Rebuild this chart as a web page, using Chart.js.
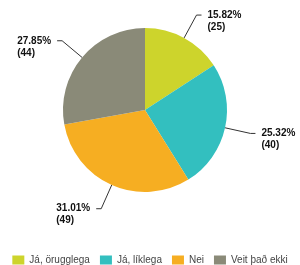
<!DOCTYPE html>
<html>
<head>
<meta charset="utf-8">
<script src="https://cdn.jsdelivr.net/npm/chart.js@4/dist/chart.umd.min.js"></script>
<style>
  html, body { margin: 0; padding: 0; background: #fff; }
  #wrap { width: 300px; height: 265px; }
</style>
</head>
<body>
<div id="wrap"><canvas id="myChart" width="300" height="265"></canvas></div>
<script>
const categories = ["Já, örugglega", "Já, líklega", "Nei", "Veit það ekki"];
const counts = [25, 40, 49, 44];
const percent_labels = ["15.82%", "25.32%", "31.01%", "27.85%"];
const slice_colors = ["#cdd42c", "#33bfbf", "#f6ae22", "#8a8a78"];

// empty layout boxes, only to keep the pie off the legend and a bit left
function spacer(position, size) {
  return {
    position: position,
    weight: 0,
    fullSize: false,
    options: {},
    top: 0, left: 0, right: 0, bottom: 0, width: 0, height: 0,
    isHorizontal() {
      return position === "top" || position === "bottom";
    },
    update(maxWidth, maxHeight) {
      if (this.isHorizontal()) {
        this.width = maxWidth;
        this.height = size;
      } else {
        this.width = size;
        this.height = maxHeight;
      }
    },
    draw() {},
  };
}

const spacers = {
  id: "spacers",
  beforeInit(chart) {
    Chart.layouts.addBox(chart, spacer("right", 10));
    Chart.layouts.addBox(chart, spacer("bottom", 53));
  },
};

// labels outside the pie with a leader line
const outsideLabels = {
  id: "outsideLabels",
  afterDatasetsDraw(chart) {
    const ctx = chart.ctx;
    const meta = chart.getDatasetMeta(0);
    ctx.save();
    ctx.font = "bold 10px Arial, 'Liberation Sans', sans-serif";
    ctx.textBaseline = "middle";
    ctx.strokeStyle = "#333";
    ctx.lineWidth = 1;
    meta.data.forEach((arc, i) => {
      const p = arc.getProps(["x", "y", "startAngle", "endAngle", "outerRadius"], true);
      const mid = (p.startAngle + p.endAngle) / 2;
      const cos = Math.cos(mid), sin = Math.sin(mid);
      const x0 = p.x + cos * p.outerRadius;
      const y0 = p.y + sin * p.outerRadius;
      const x1 = p.x + cos * (p.outerRadius + 26);
      const y1 = p.y + sin * (p.outerRadius + 26);
      const right = cos >= 0;
      const x2 = x1 + (right ? 5 : -5);
      ctx.beginPath();
      ctx.moveTo(x0, y0);
      ctx.lineTo(x1, y1);
      ctx.lineTo(x2, y1);
      ctx.stroke();
      const lines = [percent_labels[i], "(" + counts[i] + ")"];
      const w = Math.max(...lines.map((t) => ctx.measureText(t).width));
      const tx = right ? x2 + 6 : x2 - 6 - w;
      ctx.fillStyle = "#111";
      ctx.textAlign = "left";
      lines.forEach((t, k) => ctx.fillText(t, tx, y1 + k * 12));
    });
    ctx.restore();
  },
};

let ctx = document.getElementById("myChart").getContext("2d");
let myChart = new Chart(ctx, {
  type: "pie",
  data: {
    labels: categories,
    datasets: [
      {
        data: counts,
        backgroundColor: slice_colors,
        borderWidth: 0,
      },
    ],
  },
  options: {
    responsive: false,
    animation: false,
    layout: { padding: { top: 28, left: 0, right: 0, bottom: -10 } },
    plugins: {
      tooltip: { enabled: false },
      legend: {
        position: "bottom",
        labels: {
          boxWidth: 12,
          boxHeight: 9,
          padding: 10,
          color: "#444",
          font: { size: 10, family: "Arial, 'Liberation Sans', sans-serif" },
        },
      },
    },
  },
  plugins: [spacers, outsideLabels],
});
</script>
</body>
</html>
